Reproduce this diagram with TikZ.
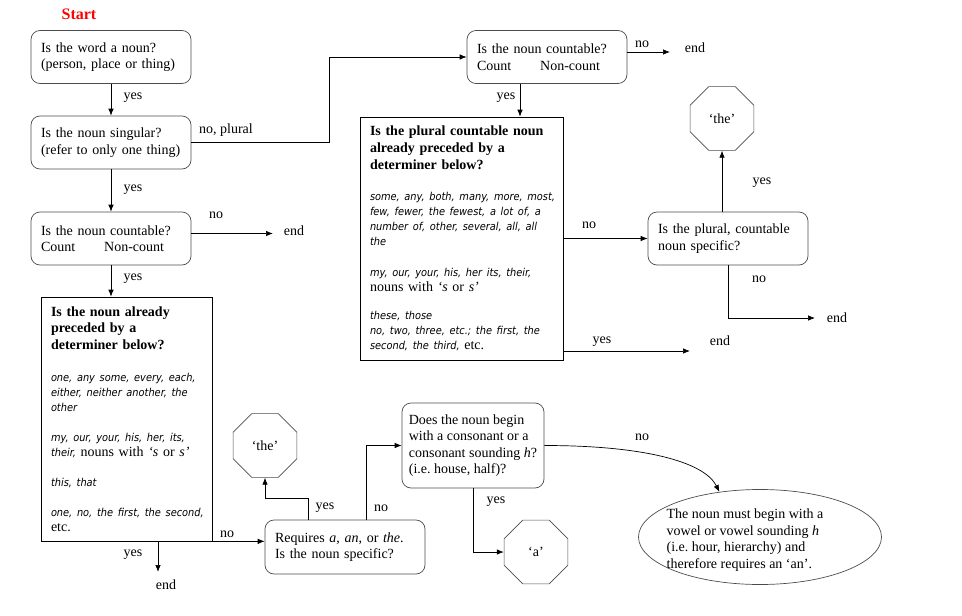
\documentclass[tikz,border=0pt]{standalone}
\usepackage{fontspec}
\setmainfont{Liberation Serif}
\newfontfamily\listfont{DejaVu Sans Condensed}[ItalicFont={DejaVu Sans Condensed Oblique}]
\usetikzlibrary{arrows.meta,shapes.geometric}
\frenchspacing

% determiner lists are set in a sans italic
\newcommand{\lst}[1]{\mbox{\listfont\itshape\fontsize{10.9}{15}\selectfont #1}}

\begin{document}
\begin{tikzpicture}[x=1pt, y=-1pt, line width=0.7pt,
		font=\fontsize{14}{16.5}\selectfont,
		box/.style={draw=black!70, rounded corners=9pt, align=left, inner xsep=10pt, minimum height=53pt},
		detbox/.style={draw, align=left, inner xsep=10pt, font=\fontsize{14}{15}\selectfont},
		octo/.style={draw=black!70, regular polygon, regular polygon sides=8, minimum size=69pt, inner sep=0pt},
		lbl/.style={inner sep=1pt},
		arr/.style={-{Latex[length=7pt,width=5.5pt]}}]
			\useasboundingbox (0,0) rectangle (962,616);
			
			% Start
			\node[red, font=\fontsize{16}{18}\selectfont\bfseries] (start) at (79,14) {Start};
			
			% Singular branch
			\node[box, text width=140pt] (noun) at (111,57) {Is the word a noun?\\(person, place or thing)};
			\node[box, text width=140pt] (singular) at (111,142.5) {Is the noun singular?\\(refer to only one thing)};
			\node[box, text width=140pt] (count) at (111,238.5) {Is the noun countable?\\Count\hspace{29pt}Non-count};
			\node[detbox, text width=151pt, minimum height=244pt] (sdet) at (126.5,419) {%
				\textbf{Is the noun already}\\[1.5pt]
				\textbf{preceded by a}\\[1.5pt]
				\textbf{determiner below?}\\[17pt]
				\lst{one, any some, every, each,}\\
				\lst{either, neither another, the}\\
				\lst{other}\\[15pt]
				\lst{my, our, your, his, her, its,}\\
				\lst{their,} nouns with \textit{`s} or \textit{s'}\\[15pt]
				\lst{this, that}\\[15pt]
				\lst{one, no, the first, the second,}\\
				etc.};
			\node[box, text width=140pt, minimum height=54pt] (spec) at (345,547) {Requires \textit{a}, \textit{an}, or \textit{the}.\\Is the noun specific?};
			\node[octo] (sthe) at (265,445.5) {`the'};
			\node[box, inner xsep=5pt, minimum width=142pt, minimum height=85pt] (cons) at (473,445.5) {Does the noun begin\\with a consonant or a\\consonant sounding \textit{h}?\\(i.e. house, half)?};
			\node[octo] (aa) at (536,552) {`a'};
			\node[draw=black!70, ellipse, minimum width=243pt, minimum height=95pt] (vowel) at (760,537) {};
			\node[align=left] (vowtext) at (745,540) {The noun must begin with a\\vowel or vowel sounding \textit{h}\\(i.e. hour, hierarchy) and\\therefore requires an `an'.};
			
			% Plural branch
			\node[box, text width=140pt] (pcount) at (547,57) {Is the noun countable?\\Count\hspace{29pt}Non-count};
			\node[detbox, text width=183pt, minimum height=243pt] (pdet) at (461.5,238.5) {%
				\textbf{Is the plural countable noun}\\[2pt]
				\textbf{already preceded by a}\\[2pt]
				\textbf{determiner below?}\\[16pt]
				\lst{some, any, both, many, more, most,}\\
				\lst{few, fewer, the fewest, a lot of, a}\\
				\lst{number of, other, several, all, all}\\
				\lst{the}\\[16pt]
				\lst{my, our, your, his, her its, their,}\\
				nouns with \textit{`s} or \textit{s'}\\[13pt]
				\lst{these, those}\\
				\lst{no, two, three, etc.; the first, the}\\
				\lst{second, the third,} etc.};
			\node[box, text width=140pt] (pspec) at (728,238.5) {Is the plural, countable\\noun specific?};
			\node[octo] (pthe) at (722,118.5) {`the'};
			
			% Ends
			\foreach \n/\p in {endpc/{695,48}, endc/{294,231}, endps/{837,318}, endpd/{720,341}, ends/{166,585}}
				\node[lbl] (\n) at (\p) {end};
			\coordinate (pcx) at (670,52);
			\coordinate (cx) at (273,233.5);
			\coordinate (psx) at (815,318);
			\coordinate (pdx) at (690,351);
			\coordinate (sx) at (158,572);
			
			% Answers
			\foreach \n/\p/\t in {a1/{133,98}/yes, a2/{133,190}/yes, a3/{133,279}/yes, a4/{226,130}/{no, plural},
				a5/{216,215}/no, a6/{642,44}/no, a7/{506,98}/yes, a8/{589,225}/no, a9/{762,183}/yes,
				a10/{759,279}/no, a11/{602,342}/yes, a12/{133,555}/yes, a13/{227,534}/no, a14/{325,508}/yes,
				a15/{381,508}/no, a16/{496,502}/yes, a17/{642,437}/no}
				\node[lbl] (\n) at (\p) {\t};
			
			% Connectors
			\draw[arr] (noun.south) -- (singular.north);
			\draw[arr] (singular.south) -- (count.north);
			\draw[arr] (count.south) -- (count.south |- sdet.north);
			\draw[arr] (count.east |- cx) -- (cx);
			\draw[arr] (singular.east) -- ++(138,0) |- (pcount.west);
			\draw[arr] (pcount.east |- pcx) -- (pcx);
			\draw[arr] ([xshift=-27pt]pcount.south) -- ([xshift=-27pt]pcount.south |- pdet.north);
			\draw[arr] (pdet.east) -- (pspec.west);
			\draw[arr] (pdet.east |- pdx) -- (pdx);
			\draw[arr] (pthe.south |- pspec.north) -- (pthe.south);
			\draw[arr] (pspec.south) |- (psx);
			\draw[arr] (sdet.south -| sx) -- (sx);
			\draw[arr] (sdet.south east) -- (sdet.south east -| spec.west);
			\draw[arr] ([xshift=-37pt]spec.north) -- ++(0,-21) -| (sthe.south);
			\draw[arr] ([xshift=21pt]spec.north) |- (cons.west);
			\draw[arr] (cons.south) |- (aa.west);
			\draw[arr] (cons.east) .. controls +(100,0) and +(-15,-30) .. (vowel.132);
			
		\end{tikzpicture}
\end{document}
